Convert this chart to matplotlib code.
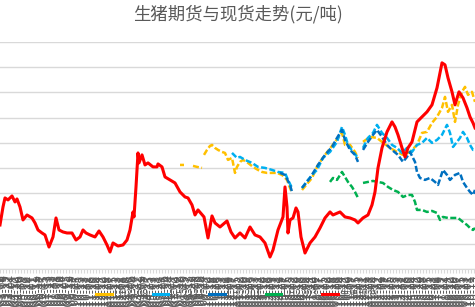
import numpy as np
import pandas as pd
import matplotlib
matplotlib.use("Agg")
import matplotlib.pyplot as plt
from matplotlib.lines import Line2D

plt.rcParams['font.family'] = ['Noto Sans CJK SC', 'DejaVu Sans']

nan = np.nan

# trading-day index on the x axis
start_date = "2018-03-01"
n_days = 951

# spot price
spot_day = [0, 6, 10, 16, 24, 30, 34, 40, 46, 54,
            64, 70, 76, 84, 90, 98, 106, 112, 118, 126,
            134, 144, 152, 160, 166, 172, 180, 190, 198, 206,
            214, 220, 226, 236, 246, 254, 260, 266, 268, 272,
            276, 278, 284, 290, 296, 306, 314, 316, 324, 330,
            340, 350, 360, 370, 376, 384, 390, 396, 408, 416,
            424, 430, 440, 454, 462, 470, 480, 490, 500, 510,
            520, 530, 540, 546, 556, 566, 570, 574, 576, 580,
            586, 592, 596, 602, 610, 620, 630, 640, 650, 660,
            666, 680, 690, 700, 710, 716, 726, 736, 744, 750,
            756, 764, 774, 784, 790, 796, 804, 810, 816, 824,
            834, 844, 854, 864, 874, 884, 890, 896, 904, 910,
            918, 926, 934, 940, 946, 950]
spot_val = [18730, 22300, 24090, 23690, 24480, 23290, 23890, 22300, 19720, 20710,
            20120, 19130, 17740, 17140, 16750, 14360, 16350, 20120, 17740, 17340,
            17140, 17140, 15750, 16350, 17740, 17140, 16750, 16350, 17540, 16350,
            14760, 13370, 15160, 14560, 14760, 15750, 17740, 21310, 20320, 26270,
            33010, 31030, 32620, 30630, 31030, 30240, 30240, 30830, 30240, 28250,
            27660, 27060, 25280, 24280, 24090, 22700, 20710, 21710, 20320, 16150,
            20520, 19130, 18330, 19520, 17340, 16150, 17140, 16150, 18330, 16750,
            16350, 15160, 12380, 13770, 17740, 20320, 26270, 22300, 17140, 19720,
            20120, 22100, 21310, 16350, 13170, 15160, 16350, 18130, 20120, 21310,
            20710, 21310, 20320, 20120, 19720, 19130, 20120, 20710, 22700, 25280,
            30040, 34010, 37180, 39160, 38170, 36590, 34010, 32220, 34010, 35200,
            39160, 40160, 41150, 42540, 45910, 50870, 50470, 47890, 45120, 42540,
            45120, 43930, 41940, 40160, 38970, 37970]

# LH2109
lh2109_day = [360, 368, 376, 386, 394, 404, 406, 408, 414, 420,
              424, 430, 436, 444, 450, 456, 464, 470, 474, 480,
              486, 496, 506, 516, 524, 534, 544, 554, 564, 574,
              580, 584, 594, 604, 624, 636, 650, 664, 670, 684,
              690, 700, 710, 716, 720, 726, 740, 754, 764, 780,
              794, 806, 820, 834, 844, 854, 864, 874, 884, 890,
              896, 904, 910, 916, 924, 930, 936, 944, 950]
lh2109_val = [30630, 30630, nan, 30440, 30240, 30040, nan, 32620, 33610, 34400,
              34600, 34010, 33610, 33210, 33010, 31630, 32020, 29050, 30240, 31230,
              31630, 31030, 30240, 29640, 29240, 29050, 29050, 29050, 28650, 27660,
              26070, 25080, nan, 25670, 28050, 30630, 32620, 34400, 35200, 36980,
              34600, 34600, 33210, 32020, nan, 35200, 36190, 35990, 35200, 34010,
              33210, 32620, 33210, 34600, 36980, 37180, 38970, 40160, 41940, 44120,
              41150, 42540, 39160, 42540, 45120, 46110, 44520, 45120, 43130]

# LH2111
lh2111_day = [464, 474, 480, 490, 504, 516, 530, 544, 556, 570,
              576, 584, 594, 604, 616, 628, 634, 646, 660, 674,
              684, 690, 696, 706, 716, 720, 726, 736, 746, 754,
              764, 774, 784, 794, 804, 814, 824, 834, 844, 854,
              864, 874, 884, 894, 900, 906, 914, 920, 926, 934,
              940, 946, 950]
lh2111_val = [33010, 32020, 32220, 31630, 31030, 30240, 30040, 29640, 29240, 29050,
              27660, 26070, nan, 26070, 27660, 29050, 29640, 32020, 33210, 35200,
              38170, 36590, 34600, 33210, 32020, nan, 34010, 35990, 36980, 38570,
              36980, 35990, 34600, 34010, 33010, 34010, 33210, 34600, 35000, 35990,
              35000, 35590, 36590, 38570, 36980, 34200, 35200, 35990, 37180, 35990,
              34600, 33610, 33610]

# LH2201
lh2201_day = [560, 570, 580, 584, 594, 604, 620, 636, 650, 664,
              674, 684, 690, 700, 710, 716, 720, 726, 736, 746,
              754, 764, 774, 784, 796, 806, 814, 820, 830, 834,
              840, 850, 860, 870, 876, 886, 894, 900, 910, 920,
              926, 934, 940, 946, 950]
lh2201_val = [29050, 28650, 26670, 25280, nan, 26070, 28050, 30630, 32620, 34200,
              35990, 37580, 35590, 33610, 32620, 31230, nan, 33610, 35200, 36590,
              37580, 36190, 34600, 33610, 32620, 31230, 32220, 33210, 31230, 29240,
              28050, 27660, 28050, 27260, 26670, 29640, 28650, 27660, 28650, 29050,
              27260, 26070, 25280, 24680, 25670]

# LH2203
lh2203_day = [660, 666, 674, 684, 690, 696, 704, 710, 716, 720,
              726, 736, 746, 756, 766, 776, 786, 796, 806, 816,
              824, 830, 834, 844, 854, 864, 874, 880, 886, 896,
              906, 916, 926, 934, 940, 946, 950]
lh2203_val = [27260, 28050, 27660, 29240, 28250, 27260, 26270, 25280, 24090, nan,
              27060, 27260, 27460, 27260, 27060, 26270, 25670, 25280, 24280, 24680,
              24680, 23290, 21710, 21710, 21310, 21510, 21110, 19720, 20320, 20120,
              20120, 20120, 19320, 18730, 18130, 17740, 18130]

names = ["LH2109", "LH2111", "LH2201", "LH2203", "生猪现货"]
colors = ["#FFC000", "#00B0F0", "#0070C0", "#00B050", "#FF0000"]

fig = plt.figure(figsize=(4.75, 3.07), dpi=100)
ax = fig.add_axes([0.0, 38 / 307, 1.0, 227 / 307])

futures = [(lh2109_day, lh2109_val), (lh2111_day, lh2111_val),
           (lh2201_day, lh2201_val), (lh2203_day, lh2203_val)]
for (d, v), c in zip(futures, colors[:4]):
    ax.plot(d, v, color=c, lw=1.8, linestyle=(0, (2.4, 1.0)), solid_capstyle="butt")
ax.plot(spot_day, spot_val, color=colors[4], lw=2.2)

ax.set_xlim(0, n_days - 1)
ax.set_ylim(10000, 55000)
ax.set_yticks(np.arange(10000, 55001, 5000))
ax.yaxis.grid(True, color="#D9D9D9", lw=1.0)
ax.set_axisbelow(True)
ax.tick_params(axis="y", left=False, labelleft=False)
for s in ["top", "right", "left"]:
    ax.spines[s].set_visible(False)
ax.spines["bottom"].set_color("#D9D9D9")

dates = pd.bdate_range(start_date, periods=n_days)
tick_pos = np.arange(0, n_days, 6)
ax.set_xticks(tick_pos)
ax.set_xticklabels([dates[i].strftime("%Y-%m-%d") for i in tick_pos],
                   rotation=90, fontsize=8.5, color="#595959")
ax.tick_params(axis="x", length=3, color="#D9D9D9", pad=1)

fig.text(0.5, 1 - 14 / 307, "生猪期货与现货走势(元/吨)", ha="center", va="center",
         fontsize=12.5, color="#595959")

handles = [Line2D([], [], color=c, lw=2.2) for c in colors]
fig.legend(handles, names, loc="center", bbox_to_anchor=(0.5, 1 - 294 / 307), ncol=5,
           frameon=False, fontsize=7, handlelength=1.6, handletextpad=0.2,
           columnspacing=0.5, labelcolor="#595959")

fig.savefig("out.png", dpi=100)
